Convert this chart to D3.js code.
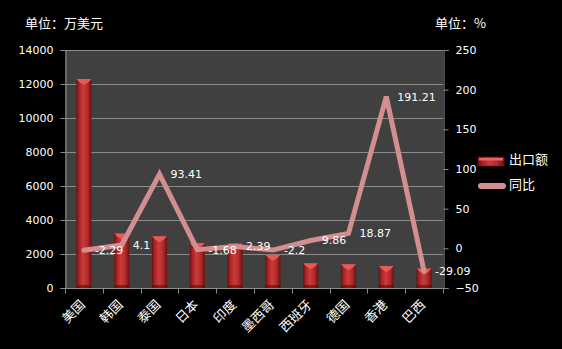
<!DOCTYPE html>
<html>
<head>
<meta charset="utf-8">
<script src="https://cdn.jsdelivr.net/npm/d3@7/dist/d3.min.js"></script>
<style>
  html, body { margin: 0; padding: 0; background: #000; }
  svg { display: block; }
  text { fill: #fff; }
</style>
</head>
<body>
<script>
// Export value (10k USD) and year-on-year growth (%) by destination
const categories = ['美国', '韩国', '泰国', '日本', '印度', '墨西哥', '西班牙', '德国', '香港', '巴西'];
const exportValues = [12300, 3200, 3050, 2650, 2620, 1950, 1450, 1400, 1300, 1150];
const yoyValues = [-2.29, 4.1, 93.41, -1.68, 2.39, -2.2, 9.86, 18.87, 191.21, -29.09];
const leftTicks = [0, 2000, 4000, 6000, 8000, 10000, 12000, 14000];
const rightTicks = [-50, 0, 50, 100, 150, 200, 250];
const seriesNames = ['出口额', '同比'];

const W = 562, H = 349;
const plot = { left: 65, right: 443, top: 50, bottom: 288 };
const numFont = '"DejaVu Sans", Verdana, sans-serif';
const cjkFont = '"Noto Sans CJK SC", "Noto Sans", sans-serif';

const svg = d3.select('body').append('svg').attr('width', W).attr('height', H);

const defs = svg.append('defs');
const barGrad = defs.append('linearGradient').attr('id', 'barGrad')
  .attr('x1', '0%').attr('x2', '100%').attr('y1', '0%').attr('y2', '0%');
[['0%', '#6a1010'], ['18%', '#a82424'], ['45%', '#cc3b3b'], ['75%', '#b02a2a'], ['100%', '#6a0f0f']]
  .forEach(([o, c]) => barGrad.append('stop').attr('offset', o).attr('stop-color', c));

const x = d3.scaleBand().domain(categories).range([plot.left, plot.right]).paddingInner(0.6).paddingOuter(0.3);
const xc = d3.scaleBand().domain(categories).range([plot.left, plot.right]);
const yL = d3.scaleLinear().domain([0, 14000]).range([plot.bottom, plot.top]);
const yR = d3.scaleLinear().domain([-50, 250]).range([plot.bottom, plot.top]);

// plot background
svg.append('rect').attr('x', plot.left).attr('y', plot.top)
  .attr('width', plot.right - plot.left).attr('height', plot.bottom - plot.top)
  .attr('fill', '#404040');

// horizontal gridlines
svg.append('g').selectAll('line').data(leftTicks.filter(d => d > 0)).join('line')
  .attr('x1', plot.left).attr('x2', plot.right)
  .attr('y1', d => Math.round(yL(d)) + 0.5).attr('y2', d => Math.round(yL(d)) + 0.5)
  .attr('stroke', '#8c8c8c').attr('stroke-width', 1);

// left axis
const axL = svg.append('g').attr('transform', `translate(${plot.left + 0.5},0)`)
  .call(d3.axisLeft(yL).tickValues(leftTicks).tickSize(5).tickPadding(7).tickFormat(d3.format('d')));
axL.selectAll('text').attr('font-family', numFont).attr('font-size', 11).attr('fill', '#fff');

// right axis
const axR = svg.append('g').attr('transform', `translate(${plot.right + 0.5},0)`)
  .call(d3.axisRight(yR).tickValues(rightTicks).tickSize(5).tickPadding(7).tickFormat(d3.format('d')));
axR.selectAll('text').attr('font-family', numFont).attr('font-size', 11).attr('fill', '#fff');

// bottom axis with ticks on category boundaries
const axB = svg.append('g').attr('transform', `translate(0,${plot.bottom + 0.5})`);
axB.append('line').attr('x1', plot.left).attr('x2', plot.right).attr('stroke', '#8c8c8c');
const bounds = categories.map(c => xc(c)).concat([plot.right]);
axB.selectAll('line.tk').data(bounds).join('line').attr('class', 'tk')
  .attr('x1', d => Math.round(d) + 0.5).attr('x2', d => Math.round(d) + 0.5)
  .attr('y1', 0).attr('y2', 5).attr('stroke', '#8c8c8c');
axB.selectAll('text').data(categories).join('text')
  .attr('transform', d => `translate(${xc(d) + xc.bandwidth() / 2 + 2},${17}) rotate(-45)`)
  .attr('text-anchor', 'end').attr('font-family', cjkFont).attr('font-size', 13)
  .attr('fill', '#f2f2f2').text(d => d);

[axL, axR].forEach(a => {
  a.select('.domain').attr('stroke', '#8c8c8c');
  a.selectAll('.tick line').attr('stroke', '#8c8c8c');
});

// bars
const bars = svg.append('g');
categories.forEach((c, i) => {
  const bx = x(c), bw = x.bandwidth(), top = yL(exportValues[i]);
  bars.append('rect').attr('x', bx).attr('y', top).attr('width', bw)
    .attr('height', plot.bottom - top).attr('fill', 'url(#barGrad)');
  bars.append('path')
    .attr('d', `M${bx},${top} L${bx + bw},${top} L${bx + bw - 3},${top + 3} L${bx + bw / 2},${top + 6} L${bx + 3},${top + 3} Z`)
    .attr('fill', '#e25c5c');
  bars.append('rect').attr('x', bx).attr('y', plot.bottom - 3).attr('width', bw).attr('height', 3)
    .attr('fill', '#5a0c0c').attr('opacity', 0.6);
});

// year-on-year line
const line = d3.line().x((d, i) => xc(categories[i]) + xc.bandwidth() / 2).y(d => yR(d));
svg.append('path').datum(yoyValues).attr('d', line)
  .attr('fill', 'none').attr('stroke', '#d38f8f').attr('stroke-width', 5)
  .attr('stroke-linejoin', 'miter').attr('stroke-linecap', 'round');

// value labels
svg.append('g').selectAll('text').data(yoyValues).join('text')
  .attr('x', (d, i) => xc(categories[i]) + xc.bandwidth() / 2 + 11)
  .attr('y', d => yR(d)).attr('dy', '0.36em')
  .attr('font-family', numFont).attr('font-size', 11).attr('fill', '#fff')
  .text(d => String(d));

// unit captions
svg.append('text').attr('x', 25).attr('y', 28).attr('font-family', cjkFont).attr('font-size', 13).text('单位：万美元');
svg.append('text').attr('x', 435).attr('y', 28).attr('font-family', cjkFont).attr('font-size', 13).text('单位：%');

// legend
const lg = svg.append('g');
lg.append('rect').attr('x', 478).attr('y', 157).attr('width', 26).attr('height', 9).attr('fill', 'url(#barGrad)')
  .attr('stroke', '#7a1414').attr('stroke-width', 0.8);
lg.append('rect').attr('x', 479).attr('y', 158).attr('width', 24).attr('height', 2.5).attr('fill', '#e66464');
lg.append('text').attr('x', 509).attr('y', 159).attr('dy', '0.36em').attr('font-family', cjkFont).attr('font-size', 13).text(seriesNames[0]);
lg.append('line').attr('x1', 481).attr('x2', 503).attr('y1', 186).attr('y2', 186)
  .attr('stroke', '#d38f8f').attr('stroke-width', 6).attr('stroke-linecap', 'round');
lg.append('text').attr('x', 509).attr('y', 184).attr('dy', '0.36em').attr('font-family', cjkFont).attr('font-size', 13).text(seriesNames[1]);
</script>
</body>
</html>
